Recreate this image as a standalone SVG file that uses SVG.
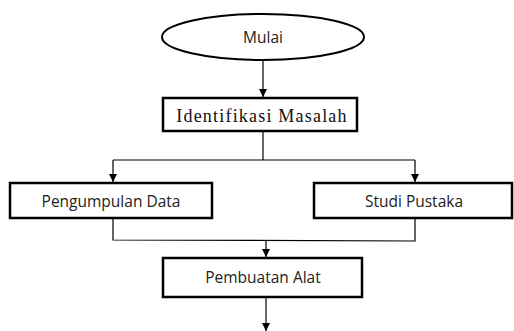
<svg xmlns="http://www.w3.org/2000/svg" width="514" height="331" viewBox="0 0 514 331">
<defs>
<marker id="ah" viewBox="0 0 10 10" refX="10" refY="5" markerWidth="8" markerHeight="8" markerUnits="userSpaceOnUse" orient="auto">
<path d="M0,0 L10,5 L0,10 z" fill="#000"/>
</marker>
<style>
.box{fill:#fff;stroke:#000;stroke-width:2.5}
.ln{fill:none;stroke:#000;stroke-width:1.2}
.sans{font-family:"Open Sans","Liberation Sans",sans-serif;font-size:15.5px;fill:#222;text-anchor:middle}
.serif{font-family:"Liberation Serif",serif;font-size:18px;fill:#111;text-anchor:middle;letter-spacing:1.2px}
</style>
</defs>
<rect width="514" height="331" fill="#fff"/>
<g id="n-mulai">
<ellipse cx="263" cy="37" rx="101" ry="23" fill="#fff" stroke="#000" stroke-width="2"/>
<text class="sans" x="263" y="43">Mulai</text>
</g>
<g id="n-identifikasi">
<rect class="box" x="163" y="98" width="194" height="33"/>
<text class="serif" x="262" y="122">Identifikasi Masalah</text>
</g>
<g id="n-pengumpulan">
<rect class="box" x="10" y="183" width="202" height="35"/>
<text class="sans" x="111" y="207">Pengumpulan Data</text>
</g>
<g id="n-studi">
<rect class="box" x="314" y="183" width="198" height="35"/>
<text class="sans" x="414" y="207">Studi Pustaka</text>
</g>
<g id="n-pembuatan">
<rect class="box" x="163" y="258" width="199" height="39"/>
<text class="sans" x="263" y="283">Pembuatan Alat</text>
</g>
<g id="connectors">
<line class="ln" x1="263" y1="60" x2="263" y2="97" marker-end="url(#ah)"/>
<line class="ln" x1="263" y1="131" x2="263" y2="160"/>
<polyline class="ln" points="113,160 415,160"/>
<line class="ln" x1="113" y1="160" x2="113" y2="182" marker-end="url(#ah)"/>
<line class="ln" x1="415" y1="160" x2="415" y2="182" marker-end="url(#ah)"/>
<polyline class="ln" points="113,218 113,240 415,241 415,218"/>
<line class="ln" x1="266" y1="240" x2="266" y2="257" marker-end="url(#ah)"/>
<line class="ln" x1="266" y1="297" x2="266" y2="331" marker-end="url(#ah)"/>
</g>
</svg>
